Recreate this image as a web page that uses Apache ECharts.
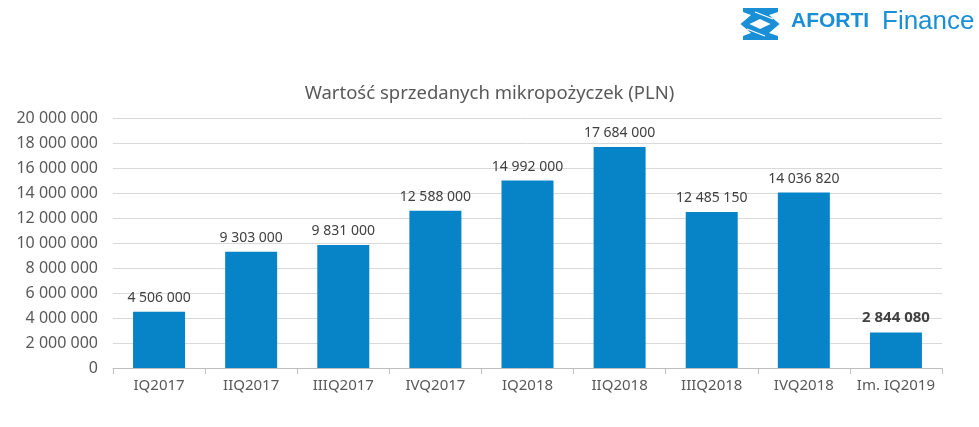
<!DOCTYPE html>
<html>
<head>
<meta charset="utf-8">
<script src="https://cdn.jsdelivr.net/npm/echarts@6/dist/echarts.min.js"></script>
<style>
  html, body { margin: 0; padding: 0; background: #fff; }
  #chart { width: 979px; height: 427px; }
</style>
</head>
<body>
<div id="chart"></div>
<script>
// dane z wykresu
var categories = ['IQ2017', 'IIQ2017', 'IIIQ2017', 'IVQ2017', 'IQ2018', 'IIQ2018', 'IIIQ2018', 'IVQ2018', 'Im. IQ2019'];
var values = [4506000, 9303000, 9831000, 12588000, 14992000, 17684000, 12485150, 14036820, 2844080];
var boldLabelIndex = 8;

function fmt(v) {
  return String(v).replace(/\B(?=(\d{3})+(?!\d))/g, ' ');
}

var logoBlue = '#1a8fd6';
var myChart = echarts.init(document.getElementById('chart'));
var option = {
  backgroundColor: '#fff',
  animation: false,
  textStyle: { fontFamily: 'Noto Sans' },
  title: {
    text: 'Wartość sprzedanych mikropożyczek (PLN)',
    left: 'center',
    top: 79,
    textStyle: { fontSize: 18.5, fontWeight: 'normal', color: '#595959', fontFamily: 'Noto Sans' }
  },
  grid: { left: 113, right: 37, top: 118, bottom: 59 },
  xAxis: {
    type: 'category',
    data: categories,
    axisLine: { lineStyle: { color: '#bfbfbf' } },
    axisTick: { show: true, length: 6, lineStyle: { color: '#bfbfbf' } },
    axisLabel: { color: '#595959', fontSize: 15, margin: 10, interval: 0 }
  },
  yAxis: {
    type: 'value',
    min: 0,
    max: 20000000,
    interval: 2000000,
    axisLine: { show: false },
    axisTick: { show: false },
    splitLine: { lineStyle: { color: '#d9d9d9' } },
    axisLabel: { color: '#595959', fontSize: 16, margin: 15, formatter: fmt }
  },
  series: [{
    type: 'bar',
    barWidth: 52,
    itemStyle: { color: '#0784c7' },
    label: {
      show: true,
      position: 'top',
      distance: 7,
      color: '#404040',
      fontSize: 14,
      formatter: function (p) { return fmt(p.value); }
    },
    data: values.map(function (v, i) {
      return i === boldLabelIndex ? { value: v, label: { fontWeight: 'bold', fontSize: 15 } } : v;
    })
  }],
  graphic: [
    // logo AFORTI Finance
    { type: 'polygon', shape: { points: [[743, 8], [778, 8], [778, 12], [769, 15], [779.5, 24], [769, 33], [778, 36], [778, 40], [743, 40], [743, 36], [751, 33], [740.5, 24], [751, 15], [743, 12]] }, style: { fill: logoBlue } },
    { type: 'polygon', shape: { points: [[749.5, 24], [760, 19], [770.5, 24], [760, 29]] }, style: { fill: '#fff' } },
    { type: 'line', shape: { x1: 755, y1: 12, x2: 773, y2: 19 }, style: { stroke: '#fff', lineWidth: 1.2 } },
    { type: 'line', shape: { x1: 747, y1: 29, x2: 765, y2: 36 }, style: { stroke: '#fff', lineWidth: 1.2 } },
    { type: 'text', left: 791, top: 11, style: { text: 'AFORTI', fill: logoBlue, font: 'bold 21px "Liberation Sans"' } },
    { type: 'text', left: 882, top: 9, style: { text: 'Finance', fill: logoBlue, font: '26px "Liberation Sans"' } }
  ]
};
option && myChart.setOption(option);
</script>
</body>
</html>
